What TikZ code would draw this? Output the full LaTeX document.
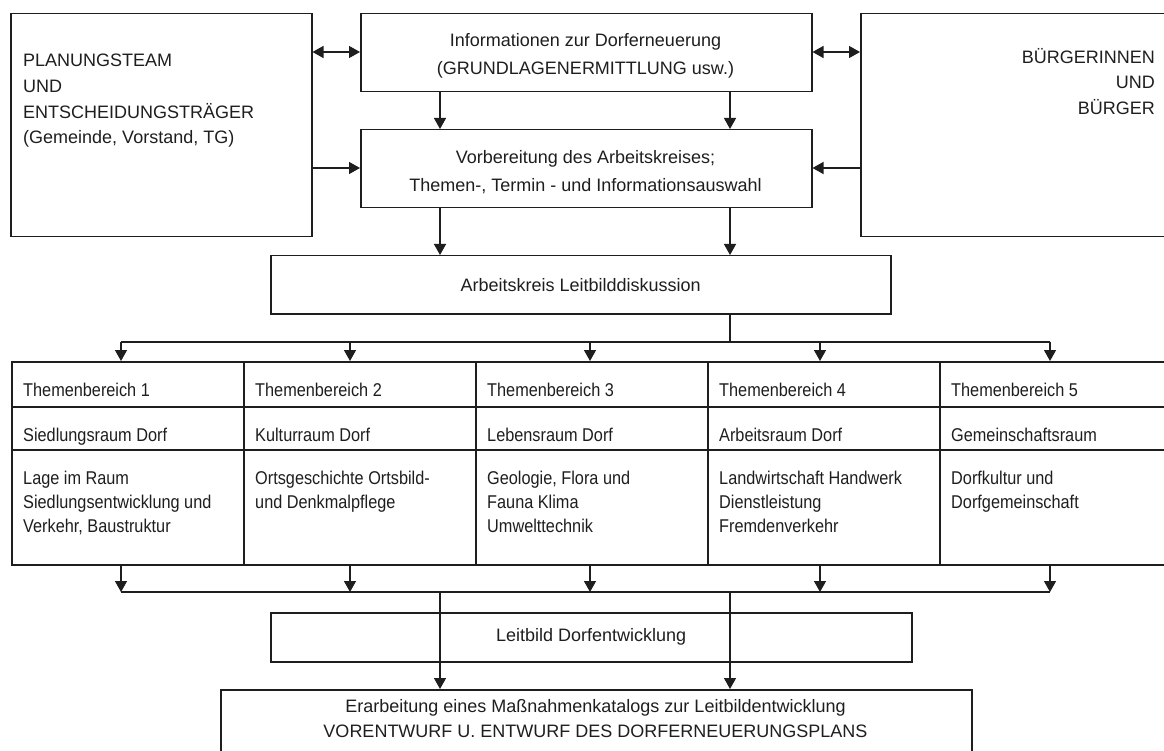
\documentclass[tikz,border=0pt]{standalone}
\usepackage{fontspec}
\setmainfont{Liberation Sans}
\newfontfamily\tabfont{Liberation Sans}[FakeStretch=0.88]
\usepackage{tikz}
\usetikzlibrary{arrows.meta, positioning, calc}
\definecolor{mydark}{RGB}{30,30,30}
\definecolor{mytext}{RGB}{30,30,30}
\tikzset{
  box/.style={rectangle, draw=mydark, line width=1.5pt, inner sep=0pt,
    anchor=north west, text=mytext, font=\fontsize{18pt}{27pt}\selectfont, align=center},
  cell/.style={rectangle, draw=mydark, line width=1.5pt, inner sep=0pt,
    anchor=north west, minimum width=232pt},
  arrow/.style={-{Triangle[length=11pt,width=12pt]}, line width=1.4pt, color=mydark},
  dblarrow/.style={{Triangle[length=11pt,width=12pt]}-{Triangle[length=11pt,width=12pt]}, line width=1.4pt, color=mydark},
  line/.style={line width=1.4pt, color=mydark}
}

\begin{document}
\begin{tikzpicture}[x=1pt, y=-1pt,
  lbl/.style={text=mytext, inner sep=0pt, font=\fontsize{18pt}{25.7pt}\selectfont},
  boxtxt/.style={text=mytext, inner sep=0pt, anchor=north, align=center,
    font=\fontsize{18pt}{28.5pt}\selectfont},
  celltxt/.style={text=mytext, inner sep=0pt, anchor=north west, align=left,
    font=\tabfont\fontsize{18.5pt}{24pt}\selectfont}
]
\useasboundingbox (0,0) rectangle (1164,751);
\clip (0,0) rectangle (1164,751);

%--- helper lines ---
\coordinate (yA) at (0,52);
\coordinate (yB) at (0,168);
\coordinate (xL) at (440,0);
\coordinate (xR) at (730,0);
\coordinate (bus1) at (0,342);
\coordinate (bus2) at (0,592);

%--- TOP ROW ---
\node[box, minimum width=301pt, minimum height=223pt] (plan) at (10,13) {};
\node[lbl, anchor=north west, align=left] (plantxt) at (23,54)
  {PLANUNGSTEAM\\UND\\ENTSCHEIDUNGSTRÄGER\\(Gemeinde, Vorstand, TG)};
\node[box, minimum width=451pt, minimum height=78pt] (info) at (360,13) {};
\node[boxtxt] (infotxt) at (585.5,33)
  {Informationen zur Dorferneuerung\\(GRUNDLAGENERMITTLUNG usw.)};
\node[box, minimum width=451pt, minimum height=78pt] (vorb) at (360,129) {};
\node[boxtxt] (vorbtxt) at (585.5,150)
  {Vorbereitung des Arbeitskreises;\\Themen-, Termin - und Informationsauswahl};
\node[box, minimum width=320pt, minimum height=223pt] (buerger) at (860,13) {};
\node[lbl, anchor=north east, align=right] (buergertxt) at (1155,48)
  {BÜRGERINNEN\\UND\\BÜRGER};

% side arrows
\draw[dblarrow] (plan.east |- yA) -- (info.west |- yA);
\draw[dblarrow] (info.east |- yA) -- (buerger.west |- yA);
\draw[arrow] (plan.east |- yB) -- (vorb.west |- yB);
\draw[arrow] (buerger.west |- yB) -- (vorb.east |- yB);
\foreach \c in {xL,xR} {
  \draw[arrow] (info.south -| \c) -- (vorb.north -| \c);
}

%--- ARBEITSKREIS ---
\node[box, minimum width=620pt, minimum height=58pt] (ak) at (270,255)
  {Arbeitskreis Leitbilddiskussion};
\foreach \c in {xL,xR} {
  \draw[arrow] (vorb.south -| \c) -- (ak.north -| \c);
}

%--- THEMENBEREICHE ---
\foreach \i/\titel/\raum/\inhalt in {
  1/{Themenbereich 1}/{Siedlungsraum Dorf}/{Lage im Raum\\Siedlungsentwicklung und\\Verkehr, Baustruktur},
  2/{Themenbereich 2}/{Kulturraum Dorf}/{Ortsgeschichte Ortsbild-\\und Denkmalpflege},
  3/{Themenbereich 3}/{Lebensraum Dorf}/{Geologie, Flora und\\Fauna Klima\\Umwelttechnik},
  4/{Themenbereich 4}/{Arbeitsraum Dorf}/{Landwirtschaft Handwerk\\Dienstleistung\\Fremdenverkehr},
  5/{Themenbereich 5}/{Gemeinschaftsraum}/{Dorfkultur und\\Dorfgemeinschaft}} {
  \pgfmathsetmacro\cx{11+(\i-1)*232}
  \node[cell, minimum height=45pt] (head\i) at (\cx,361) {};
  \node[cell, minimum height=43pt] (raum\i) at (\cx,406) {};
  \node[cell, minimum height=115pt] (inh\i) at (\cx,449) {};
  \node[celltxt] (headtxt\i) at ([shift={(12pt,-22pt)}]head\i.north west) {\titel};
  \node[celltxt] (raumtxt\i) at ([shift={(12pt,-22pt)}]raum\i.north west) {\raum};
  \node[celltxt] (inhtxt\i) at ([shift={(12pt,-22pt)}]inh\i.north west) {\inhalt};
}

% distribution to and from the table
\foreach \i/\x in {1/121,2/350,3/590,4/820,5/1050} {
  \coordinate (a\i) at (\x,0);
  \draw[arrow] (bus1 -| a\i) -- (head\i.north -| a\i);
  \draw[arrow] (inh\i.south -| a\i) -- (bus2 -| a\i);
}
\draw[line] (ak.south -| xR) -- (bus1 -| xR);
\draw[line] (bus1 -| a1) -- (bus1 -| a5);
\draw[line] (bus2 -| a1) -- (bus2 -| a5);

%--- BOTTOM ---
\node[box, minimum width=641pt, minimum height=49pt] (leit) at (270,612)
  {Leitbild Dorfentwicklung};
\node[box, minimum width=751pt, minimum height=90pt] (final) at (220,689) {};
\node[boxtxt, font=\fontsize{18pt}{25pt}\selectfont] (finaltxt) at (595.5,699)
  {Erarbeitung eines Maßnahmenkatalogs zur Leitbildentwicklung\\VORENTWURF U. ENTWURF DES DORFERNEUERUNGSPLANS};
\foreach \c in {xL,xR} {
  \draw[arrow] (bus2 -| \c) -- (final.north -| \c);
}
\end{tikzpicture}
\end{document}
